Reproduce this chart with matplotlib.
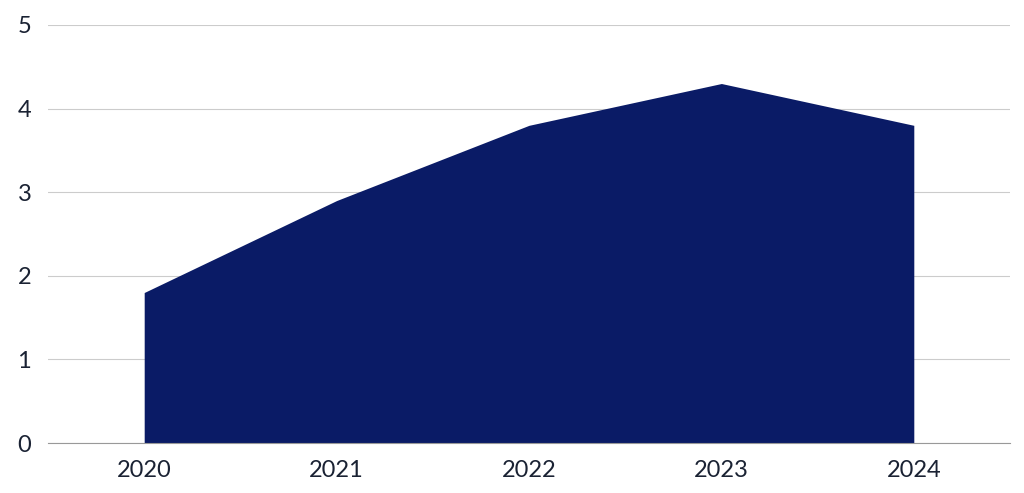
import matplotlib.pyplot as plt

years = ["2020", "2021", "2022", "2023", "2024"]
values = [1.8, 2.9, 3.8, 4.3, 3.8]

plt.rcParams['font.family'] = ['Lato', 'DejaVu Sans']

fig = plt.figure(figsize=(10.24, 4.93), dpi=100)
ax = fig.add_axes([48 / 1024, 50 / 493, 962 / 1024, 418 / 493])

x = list(range(len(years)))
ax.fill_between(x, values, 0, color="#0a1b66", linewidth=0)

ax.set_xlim(-0.5, len(years) - 0.5)
ax.set_ylim(0, 5)
ax.set_yticks(range(6))
ax.set_xticks(x)
ax.set_xticklabels(years)
ax.grid(axis="y", color="#cccccc", linewidth=0.8)
ax.set_axisbelow(True)
for s in ["top", "right", "left"]:
    ax.spines[s].set_visible(False)
ax.spines["bottom"].set_color("#999999")
ax.tick_params(axis="both", length=0, labelsize=17, colors="#1a2233")
ax.tick_params(axis="x", pad=12)
ax.tick_params(axis="y", pad=22)
for lbl in ax.get_yticklabels():
    lbl.set_horizontalalignment("left")

fig.savefig("out.png", dpi=100)
